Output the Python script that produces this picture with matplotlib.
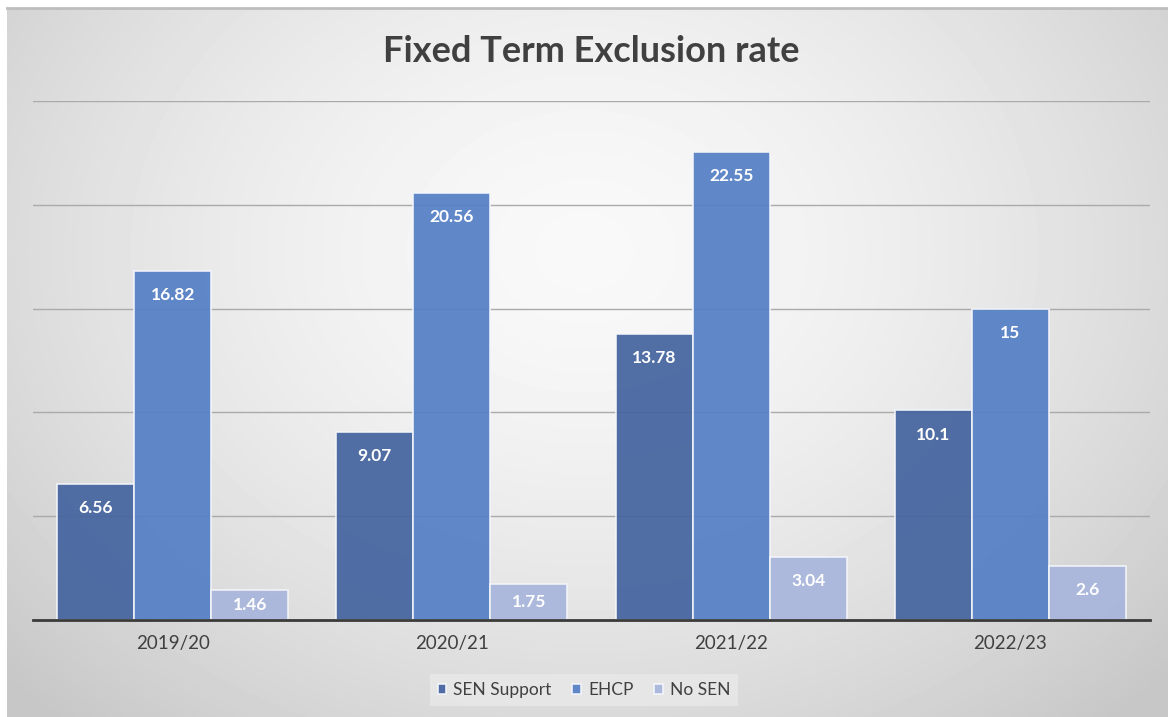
import numpy as np
from matplotlib import pyplot as plt

years = ["2019/20", "2020/21", "2021/22", "2022/23"]
sen_support = [6.56, 9.07, 13.78, 10.1]
ehcp = [16.82, 20.56, 22.55, 15]
no_sen = [1.46, 1.75, 3.04, 2.6]
labels = ["SEN Support", "EHCP", "No SEN"]

colors = ["#44649f", "#5580c6", "#a8b6dc"]
W, H = 1168, 717

plt.rcParams['font.family'] = ['Lato', 'DejaVu Sans']

fig = plt.figure(figsize=(W / 100, H / 100), dpi=100)
fig.patch.set_facecolor('white')

# radial grey gradient background, chart area starts a few px in from left/top
x0, y0 = 7, 8
bg = fig.add_axes([0, 0, 1, 1], zorder=-10)
yy, xx = np.mgrid[0:H, 0:W]
r = np.sqrt(((xx - W / 2) / (W * 0.62)) ** 2 + ((yy - H * 0.35) / (H * 0.8)) ** 2)
shade = np.clip(0.975 - 0.17 * r ** 1.6, 0.78, 0.98)
shade[:, :x0] = 1.0
shade[:y0, :] = 1.0
bg.imshow(shade, cmap='gray', vmin=0, vmax=1, aspect='auto', extent=[0, W, H, 0])
bg.plot([x0, W], [y0, y0], color="#bdbdbd", lw=2)
bg.set_xlim(0, W)
bg.set_ylim(H, 0)
bg.axis('off')

ax = fig.add_axes([33 / W, (H - 620) / H, (1150 - 33) / W, (620 - 101) / H])
ax.patch.set_alpha(0)

x = np.arange(len(years))
width = 0.276
series = [sen_support, ehcp, no_sen]
for i, vals in enumerate(series):
    xs = x + (i - 1) * width
    ax.bar(xs, vals, width, color=colors[i], alpha=0.93, edgecolor="#f4f6fa",
           linewidth=1.2, label=labels[i], zorder=3)
    for xi, v in zip(xs, vals):
        off = min(1.17, v / 2)
        ax.text(xi, v - off, "{:g}".format(v), ha='center', va='center', color='white',
                fontsize=12.5, fontweight='bold', zorder=4)

ax.set_xlim(-0.5, 3.5)
ax.set_ylim(0, 25)
ax.set_yticks([5, 10, 15, 20, 25])
ax.yaxis.grid(True, color="#aaaaaa", lw=1, zorder=0)
ax.set_yticklabels([])
ax.tick_params(axis='y', length=0)
ax.tick_params(axis='x', length=0, pad=11, labelsize=13.5, labelcolor="#404040")
ax.set_xticks(x)
ax.set_xticklabels(years)
for s in ['top', 'right', 'left']:
    ax.spines[s].set_visible(False)
ax.spines['bottom'].set_color("#3a3a3a")
ax.spines['bottom'].set_linewidth(2)
ax.spines['bottom'].set_zorder(5)

fig.text(0.506, 1 - 52 / H, "Fixed Term Exclusion rate", ha='center', va='center',
         fontsize=26, fontweight='bold', color="#404040")

leg = fig.legend(loc='center', bbox_to_anchor=(0.5, 1 - 690 / H), ncol=3, frameon=True,
                 fontsize=12.5, handlelength=0.5, handleheight=0.5, handletextpad=0.4,
                 columnspacing=1.2, borderpad=0.45, fancybox=False)
leg.get_frame().set_facecolor("#e9e9e9")
leg.get_frame().set_edgecolor("none")
leg.get_frame().set_alpha(0.8)
for t in leg.get_texts():
    t.set_color("#404040")

plt.savefig('out.png', dpi=100, facecolor='white')
